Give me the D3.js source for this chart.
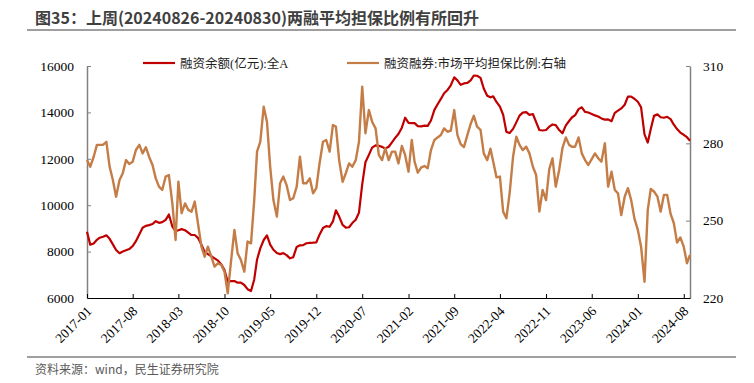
<!DOCTYPE html>
<html><head><meta charset="utf-8">
<script src="https://cdn.jsdelivr.net/npm/d3@7"></script>
<style>
html,body{margin:0;padding:0;background:#fff;}
svg{display:block;}
</style></head>
<body>
<svg id="chart" width="754" height="383"></svg>
<script>
const title = "图35：上周(20240826-20240830)两融平均担保比例有所回升";
const source = "资料来源：wind，民生证券研究院";
const seriesNames = ["融资余额(亿元):全A", "融资融券:市场平均担保比例:右轴"];
const tickLabels = ["2017-01","2017-08","2018-03","2018-10","2019-05","2019-12","2020-07","2021-02","2021-09","2022-04","2022-11","2023-06","2024-01","2024-08"];
const leftTicks = [6000, 8000, 10000, 12000, 14000, 16000];
const rightTicks = [220, 250, 280, 310];

const dates = [
"2017-01-01","2017-01-16","2017-02-01","2017-02-16","2017-03-01","2017-03-16","2017-04-01","2017-04-16","2017-05-01","2017-05-16","2017-06-01","2017-06-16","2017-07-01","2017-07-16","2017-08-01","2017-08-16","2017-09-01","2017-09-16","2017-10-01","2017-10-16","2017-11-01","2017-11-16","2017-12-01","2017-12-16",
"2018-01-01","2018-01-16","2018-02-01","2018-02-16","2018-03-01","2018-03-16","2018-04-01","2018-04-16","2018-05-01","2018-05-16","2018-06-01","2018-06-16","2018-07-01","2018-07-16","2018-08-01","2018-08-16","2018-09-01","2018-09-16","2018-10-01","2018-10-16","2018-11-01","2018-11-16","2018-12-01","2018-12-16",
"2019-01-01","2019-01-16","2019-02-01","2019-02-16","2019-03-01","2019-03-16","2019-04-01","2019-04-16","2019-05-01","2019-05-16","2019-06-01","2019-06-16","2019-07-01","2019-07-16","2019-08-01","2019-08-16","2019-09-01","2019-09-16","2019-10-01","2019-10-16","2019-11-01","2019-11-16","2019-12-01","2019-12-16",
"2020-01-01","2020-01-16","2020-02-01","2020-02-16","2020-03-01","2020-03-16","2020-04-01","2020-04-16","2020-05-01","2020-05-16","2020-06-01","2020-06-16","2020-07-01","2020-07-16","2020-08-01","2020-08-16","2020-09-01","2020-09-16","2020-10-01","2020-10-16","2020-11-01","2020-11-16","2020-12-01","2020-12-16",
"2021-01-01","2021-01-16","2021-02-01","2021-02-16","2021-03-01","2021-03-16","2021-04-01","2021-04-16","2021-05-01","2021-05-16","2021-06-01","2021-06-16","2021-07-01","2021-07-16","2021-08-01","2021-08-16","2021-09-01","2021-09-16","2021-10-01","2021-10-16","2021-11-01","2021-11-16","2021-12-01","2021-12-16",
"2022-01-01","2022-01-16","2022-02-01","2022-02-16","2022-03-01","2022-03-16","2022-04-01","2022-04-16","2022-05-01","2022-05-16","2022-06-01","2022-06-16","2022-07-01","2022-07-16","2022-08-01","2022-08-16","2022-09-01","2022-09-16","2022-10-01","2022-10-16","2022-11-01","2022-11-16","2022-12-01","2022-12-16",
"2023-01-01","2023-01-16","2023-02-01","2023-02-16","2023-03-01","2023-03-16","2023-04-01","2023-04-16","2023-05-01","2023-05-16","2023-06-01","2023-06-16","2023-07-01","2023-07-16","2023-08-01","2023-08-16","2023-09-01","2023-09-16","2023-10-01","2023-10-16","2023-11-01","2023-11-16","2023-12-01","2023-12-16",
"2024-01-01","2024-01-16","2024-02-01","2024-02-16","2024-03-01","2024-03-16","2024-04-01","2024-04-16","2024-05-01","2024-05-16","2024-06-01","2024-06-16","2024-07-01","2024-07-16","2024-08-01","2024-08-16","2024-08-30"
];

const marginBalance = [
8858,8300,8350,8510,8600,8643,8700,8550,8310,8070,
7930,8000,8060,8110,8240,8450,8750,9030,9110,9140,
9190,9310,9240,9270,9370,9600,9080,8880,8920,8970,
8920,8820,8715,8715,8580,8300,7990,7890,7800,7710,
7610,7450,7207,6703,6730,6730,6660,6660,6560,6380,
6300,6800,7650,8140,8500,8700,8300,8080,7940,7890,
7935,7850,7710,7760,8200,8270,8280,8360,8375,8384,
8400,8730,9020,9100,9070,9300,9780,9510,9150,9030,
9050,9230,9370,9680,10900,11850,12170,12480,12580,12560,
12515,12440,12520,12710,12900,13070,13340,13770,13550,13540,
13540,13410,13395,13430,13420,13650,14110,14350,14580,14823,
14966,15170,15510,15380,15190,15250,15270,15380,15590,15580,
15490,15030,14720,14650,14690,14450,14250,13900,13160,13115,
13290,13570,13860,13990,14010,13895,13930,13580,13240,13220,
13242,13386,13480,13450,13240,13100,13440,13630,13780,13880,
14140,14220,14020,13995,13935,13870,13825,13740,13690,13700,
13620,13980,14075,14170,14330,14679,14679,14590,14460,14220,
13050,12700,13280,13850,13915,13790,13770,13810,13710,13470,
13280,13130,13035,12930,12780
];

const guaranteeRatio = [
273.5,270.9,274.8,279.4,279.4,279.4,280.6,270.9,265.8,259.3,
265.8,268.4,273.5,272.0,272.9,277.4,279.4,276.1,278.5,274.8,
271.6,266.4,263.2,261.9,267.1,267.7,256.7,242.5,265.1,252.9,
256.7,254.2,253.5,257.4,248.3,239.9,236.0,239.9,236.0,232.2,
233.5,232.8,230.2,221.8,234.8,246.4,237.3,234.8,230.2,241.9,
241.2,258.0,276.8,280.6,294.2,288.4,270.9,258.0,251.6,264.5,
267.1,263.8,258.0,258.7,263.2,274.8,264.5,264.5,266.4,260.6,
262.6,272.2,280.6,281.3,276.8,287.1,286.5,273.5,265.1,268.4,
272.2,270.9,273.5,280.6,302.0,283.9,292.9,288.4,285.8,275.5,
273.5,278.1,273.5,276.8,276.8,272.2,279.0,275.5,269.0,281.3,
272.9,268.6,270.7,271.2,270.3,277.4,281.3,282.3,283.2,285.8,
284.5,284.9,292.9,283.2,279.7,278.5,283.2,287.5,290.7,286.5,
285.2,276.1,273.5,277.9,272.9,266.8,267.1,253.5,250.9,260.6,
274.8,282.6,279.4,277.4,278.7,276.1,270.9,267.7,253.5,261.9,
258.0,270.0,274.2,263.2,269.7,278.1,282.3,279.4,278.7,278.7,
282.3,276.1,273.5,271.6,273.9,276.1,274.2,272.9,280.0,263.2,
269.0,261.9,260.6,252.2,259.3,262.6,258.0,250.9,246.4,239.9,
226.3,254.2,262.3,261.3,259.3,253.5,260.0,260.0,252.6,249.0,
241.5,243.5,239.9,233.5,236.7
];

const colors = ["#C00000", "#C47D47"];

const svg = d3.select("#chart");
const parse = d3.timeParse("%Y-%m-%d");
const parseM = d3.timeParse("%Y-%m");
const dts = dates.map(parse);

const plot = {left: 87, right: 690, top: 66, bottom: 298};
const x = d3.scaleTime().domain([dts[0], dts[dts.length - 1]]).range([plot.left, plot.right]);
const yL = d3.scaleLinear().domain([6000, 16000]).range([plot.bottom, plot.top]);
const yR = d3.scaleLinear().domain([220, 310]).range([plot.bottom, plot.top]);

const serif = "'Liberation Serif','Times New Roman',serif";
const cjkSerif = "'Liberation Serif','Noto Sans CJK SC',serif";
const sans = "'Noto Sans CJK SC','Noto Sans',sans-serif";

// title
svg.append("text").attr("x", 35).attr("y", 24)
  .attr("font-family", sans).attr("font-weight", "bold").attr("font-size", 16)
  .attr("fill", "#404040").text(title);
svg.append("line").attr("x1", 27).attr("x2", 736).attr("y1", 30).attr("y2", 30)
  .attr("stroke", "#7f7f7f").attr("stroke-width", 1.5);
svg.append("line").attr("x1", 27).attr("x2", 736).attr("y1", 357).attr("y2", 357)
  .attr("stroke", "#7f7f7f").attr("stroke-width", 1.5);
svg.append("text").attr("x", 35).attr("y", 374)
  .attr("font-family", sans).attr("font-size", 12)
  .attr("fill", "#595959").text(source);

// axes
const gL = svg.append("g").attr("transform", `translate(${plot.left},0)`)
  .call(d3.axisLeft(yL).tickValues(leftTicks).tickFormat(d3.format("d")).tickSizeInner(-4).tickSizeOuter(0).tickPadding(13));
gL.select(".domain").attr("stroke", "#808080").attr("stroke-width", 1.5);
gL.selectAll(".tick line").attr("stroke", "#808080");
gL.selectAll("text").attr("font-family", serif).attr("font-size", 13.5).attr("fill", "#000");

const gR = svg.append("g").attr("transform", `translate(${plot.right},0)`)
  .call(d3.axisRight(yR).tickValues(rightTicks).tickSizeInner(-4).tickSizeOuter(0).tickPadding(13));
gR.select(".domain").attr("stroke", "#808080").attr("stroke-width", 1.5);
gR.selectAll(".tick line").attr("stroke", "#808080");
gR.selectAll("text").attr("font-family", serif).attr("font-size", 13.5).attr("fill", "#000");

const tickDates = tickLabels.map(parseM);
const gB = svg.append("g").attr("transform", `translate(0,${plot.bottom})`)
  .call(d3.axisBottom(x).tickValues(tickDates).tickFormat(d3.timeFormat("%Y-%m")).tickSizeInner(-4).tickSizeOuter(0).tickPadding(0));
gB.select(".domain").attr("stroke", "#000").attr("stroke-width", 1);
gB.selectAll(".tick line").attr("stroke", "#000");
gB.selectAll(".tick text")
  .attr("font-family", serif).attr("font-size", 13.5).attr("fill", "#000")
  .attr("text-anchor", "end").attr("dy", 0).attr("y", 0)
  .attr("transform", "translate(5,14) rotate(-45)");

// lines
const lineL = d3.line().x((d, i) => x(dts[i])).y(d => yL(d));
const lineR = d3.line().x((d, i) => x(dts[i])).y(d => yR(d));
svg.append("path").datum(marginBalance).attr("d", lineL)
  .attr("fill", "none").attr("stroke", colors[0]).attr("stroke-width", 2.2).attr("stroke-linejoin", "round");
svg.append("path").datum(guaranteeRatio).attr("d", lineR)
  .attr("fill", "none").attr("stroke", colors[1]).attr("stroke-width", 2.4).attr("stroke-linejoin", "round");

// legend
const legendPos = [143, 347];
seriesNames.forEach((name, i) => {
  const g = svg.append("g").attr("transform", `translate(${legendPos[i]},63)`);
  g.append("line").attr("x1", 0).attr("x2", 32).attr("y1", 0).attr("y2", 0)
    .attr("stroke", colors[i]).attr("stroke-width", 2.2);
  g.append("text").attr("x", 37).attr("y", 4.5)
    .attr("font-family", cjkSerif).attr("font-size", 12.5).attr("fill", "#222").text(name);
});
</script>
</body></html>
